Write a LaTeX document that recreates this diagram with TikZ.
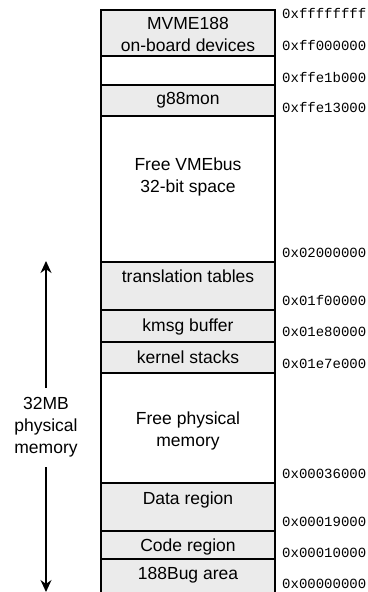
\documentclass[tikz,border=0pt]{standalone}
\usepackage{fontspec}
\setmainfont{Liberation Sans}
\setmonofont{Liberation Mono}
\usetikzlibrary{arrows.meta}
\definecolor{regiongray}{HTML}{EBEBEB}
\tikzset{
  region/.style={draw=black, line width=1.4pt},
  used/.style={region, fill=regiongray},
  lbl/.style={anchor=base, font=\fontsize{17.5}{22}\selectfont, align=center, inner sep=0pt},
  addr/.style={anchor=base west, font=\ttfamily\fontsize{14}{16}\selectfont, inner sep=0pt},
  span/.style={line width=1.2pt, -{Stealth[length=12pt,width=11pt]}}
}
\begin{document}
\begin{tikzpicture}[x=1pt,y=-1pt]
\useasboundingbox (0,0) rectangle (367,592);
\begin{scope}
\clip (0,0) rectangle (367,592);
% memory regions, top to bottom
\draw[used]   (101,10)  rectangle (275,56);
\draw[region] (101,56)  rectangle (275,85);
\draw[used]   (101,85)  rectangle (275,116);
\draw[region] (101,116) rectangle (275,262);
\draw[used]   (101,262) rectangle (275,310);
\draw[used]   (101,310) rectangle (275,342);
\draw[used]   (101,342) rectangle (275,373);
\draw[region] (101,373) rectangle (275,483);
\draw[used]   (101,483) rectangle (275,531);
\draw[used]   (101,531) rectangle (275,559);
\draw[used]   (101,559) rectangle (275,600);
\end{scope}
% region names (base = baseline of the last line)
\node[lbl] (mvme) at (188,51) {MVME188\\on-board devices};
\node[lbl] (mon) at (188,104) {g88mon};
\node[lbl] (vme) at (188,192) {Free VMEbus\\32-bit space};
\node[lbl] (tt) at (188,282) {translation tables};
\node[lbl] (kmsg) at (188,331) {kmsg buffer};
\node[lbl] (kst) at (188,363) {kernel stacks};
\node[lbl] (fpm) at (188,446) {Free physical\\memory};
\node[lbl] (data) at (188,504) {Data region};
\node[lbl] (code) at (188,551) {Code region};
\node[lbl] (bug) at (188,579) {188Bug area};
% addresses
\node[addr] (a1) at (282,18) {0xffffffff};
\node[addr] (a2) at (282,50) {0xff000000};
\node[addr] (a3) at (282,82) {0xffe1b000};
\node[addr] (a4) at (282,112) {0xffe13000};
\node[addr] (a5) at (282,257) {0x02000000};
\node[addr] (a6) at (282,305) {0x01f00000};
\node[addr] (a7) at (282,336) {0x01e80000};
\node[addr] (a8) at (282,368) {0x01e7e000};
\node[addr] (a9) at (282,478) {0x00036000};
\node[addr] (a10) at (282,526) {0x00019000};
\node[addr] (a11) at (282,557) {0x00010000};
\node[addr] (a12) at (282,588) {0x00000000};
% physical memory extent
\node[lbl] (phys) at (46,453) {32MB\\physical\\memory};
\coordinate (topend) at (46,261);
\coordinate (botend) at (46,592);
\coordinate (upstart) at (46,388);
\coordinate (downstart) at (46,467);
\draw[span] (upstart) -- (topend);
\draw[span] (downstart) -- (botend);
\end{tikzpicture}
\end{document}
